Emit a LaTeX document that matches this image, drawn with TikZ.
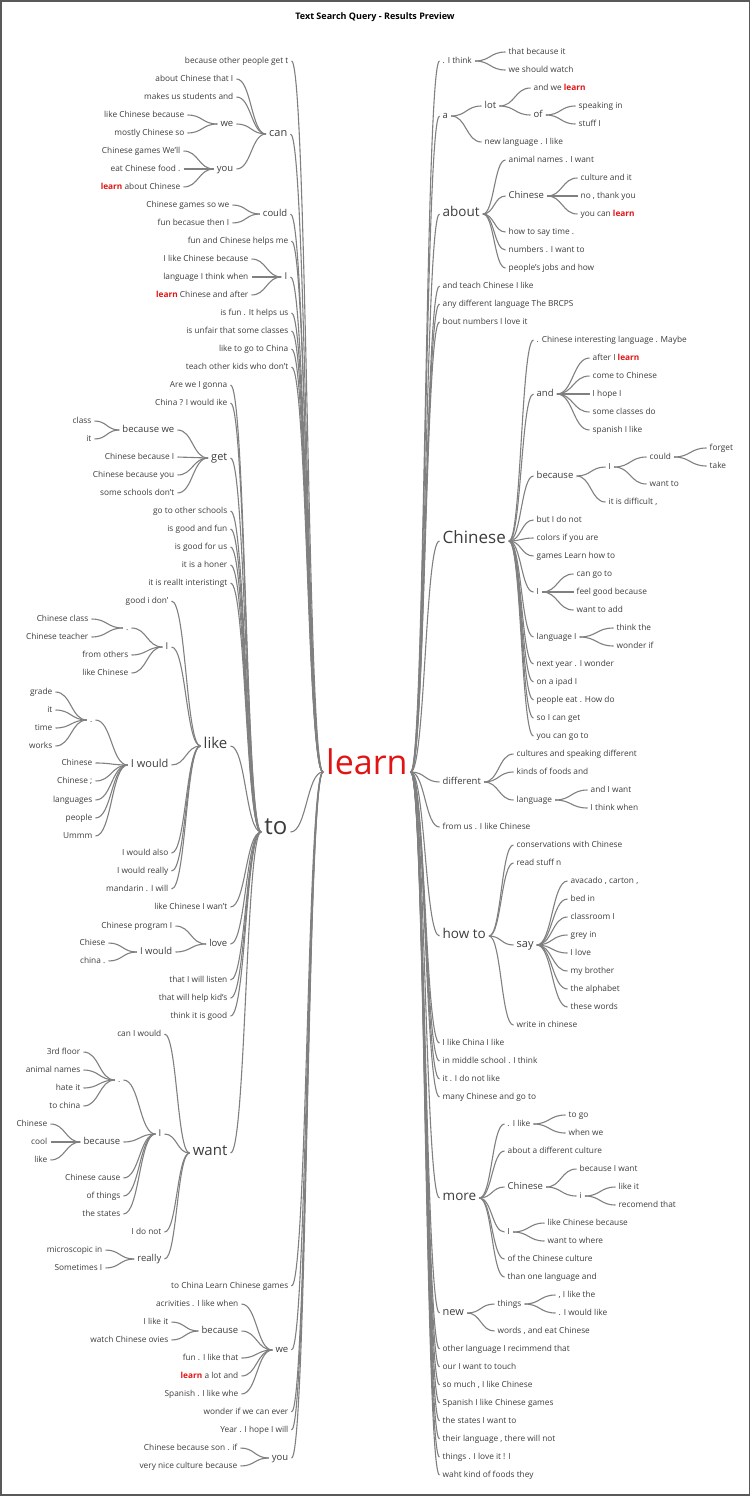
\documentclass[tikz,border=0pt]{standalone}
\usepackage{fontspec}
\setmainfont{Open Sans}
\usetikzlibrary{calc}
\definecolor{txt}{RGB}{60,60,60}
\definecolor{lngray}{RGB}{128,128,128}
\definecolor{lred}{RGB}{225,20,20}
\newcommand{\lrn}{\textbf{\textcolor{lred}{learn}}}
\newcommand{\lk}[2]{\draw[lnk] let \p1=(#1.east), \p2=(#2.west) in (\p1) .. controls (\x1/2+\x2/2,\y1) and (\x1/2+\x2/2,\y2) .. (\p2);}
\tikzset{
  wd/.style={inner xsep=3pt, inner ysep=1pt, text height=1.5ex, text depth=.5ex, text=txt, font=\fontsize{8.3}{10}\selectfont},
  lw/.style={wd, anchor=east, xshift=1.5pt},
  rw/.style={wd, anchor=west, xshift=-1.5pt},
  s1/.style={font=\fontsize{9.5}{11}\selectfont},
  s2/.style={font=\fontsize{11}{13}\selectfont},
  s3/.style={font=\fontsize{13.5}{15}\selectfont},
  s4/.style={font=\fontsize{15}{17}\selectfont},
  lnk/.style={draw=lngray, line width=1.1pt},
}
\begin{document}
\begin{tikzpicture}[x=1pt,y=-1pt]
    \useasboundingbox (0,0) rectangle (751,1496);
    \draw[gray!70!black, line width=1.2pt] (1,1) rectangle (749.5,1495);
    \node[font=\bfseries\fontsize{9}{11}\selectfont] (title) at (375,17) {Text Search Query - Results Preview};

    \node[font=\fontsize{34}{38}\selectfont, text=lred, anchor=west, inner xsep=3pt, text height=1.5ex, text depth=.5ex] (learn) at (323,772) {learn};
    \node[lw, font=\fontsize{24}{28}\selectfont] (to) at (289,832) {to};

    % left of learn
    \node[lw] (l1) at (290,61) {because other people get t};
    \node[lw,s2] (lcan) at (289,134) {can};
    \node[lw] (lcan1) at (235,79) {about Chinese that I};
    \node[lw] (lcan2) at (235,97) {makes us students and};
    \node[lw,s1] (lwe) at (235,124) {we};
    \node[lw] (lwe1) at (186,115) {like Chinese because};
    \node[lw] (lwe2) at (186,133) {mostly Chinese so};
    \node[lw,s1] (lyou) at (235,169) {you};
    \node[lw] (lyou1) at (182,151) {Chinese games We'll};
    \node[lw] (lyou2) at (182,169) {eat Chinese food .};
    \node[lw] (lyou3) at (182,187) {\lrn{} about Chinese};
    \node[lw,s1] (lcould) at (289,214) {could};
    \node[lw] (lcould1) at (231,205) {Chinese games so we};
    \node[lw] (lcould2) at (231,223) {fun becasue then I};
    \node[lw] (l2) at (290,241) {fun and Chinese helps me};
    \node[lw,s1] (lI) at (289,277) {I};
    \node[lw] (lI1) at (250,259) {I like Chinese because};
    \node[lw] (lI2) at (250,277) {language I think when};
    \node[lw] (lI3) at (250,295) {\lrn{} Chinese and after};
    \node[lw] (l3) at (290,313) {is fun . It helps us};
    \node[lw] (l4) at (290,331) {is unfair that some classes};
    \node[lw] (l5) at (290,349) {like to go to China};
    \node[lw] (l6) at (290,367) {teach other kids who don't};
    \node[lw] (l7) at (290,1286) {to China Learn Chinese games};
    \node[lw,s1] (lwb) at (290,1350) {we};
    \node[lw] (wb1) at (240,1304) {acrivities . I like when};
    \node[lw,s1] (wbb) at (240,1331) {because};
    \node[lw] (wbb1) at (170,1322) {I like it};
    \node[lw] (wbb2) at (170,1340) {watch Chinese ovies};
    \node[lw] (wb2) at (240,1358) {fun . I like that};
    \node[lw] (wb3) at (240,1376) {\lrn{} a lot and};
    \node[lw] (wb4) at (240,1394) {Spanish . I like whe};
    \node[lw] (l8) at (290,1412) {wonder if we can ever};
    \node[lw] (l9) at (290,1430) {Year . I hope I will};
    \node[lw,s1] (lyou4) at (290,1458) {you};
    \node[lw] (yb1) at (239,1448) {Chinese because son . if};
    \node[lw] (yb2) at (239,1466) {very nice culture because};

    % left of to
    \node[lw] (t1) at (229,385) {Are we I gonna};
    \node[lw] (t2) at (229,403) {China ? I would ike};
    \node[lw,s2] (tget) at (229,458) {get};
    \node[lw,s1] (gbec) at (176,430) {because we};
    \node[lw] (gbec1) at (93,421) {class};
    \node[lw] (gbec2) at (93,439) {it};
    \node[lw] (g1) at (176,457) {Chinese because I};
    \node[lw] (g2) at (176,475) {Chinese because you};
    \node[lw] (g3) at (176,493) {some schools don't};
    \node[lw] (t3) at (229,511) {go to other schools};
    \node[lw] (t4) at (229,529) {is good and fun};
    \node[lw] (t5) at (229,547) {is good for us};
    \node[lw] (t6) at (229,565) {it is a honer};
    \node[lw] (t7) at (229,583) {it is reallt interistingt};
    \node[lw,s4] (tlike) at (229,746) {like};
    \node[lw] (k1) at (170,601) {good i don'};
    \node[lw,s1] (kI) at (170,647) {I};
    \node[lw] (kIdot) at (130,628) {.};
    \node[lw] (kId1) at (90,619) {Chinese class};
    \node[lw] (kId2) at (90,637) {Chinese teacher};
    \node[lw] (kI1) at (130,655) {from others};
    \node[lw] (kI2) at (130,673) {like Chinese};
    \node[lw,s2] (kw) at (170,765) {I would};
    \node[lw] (kwdot) at (94,720) {.};
    \node[lw] (kwd1) at (54,692) {grade};
    \node[lw] (kwd2) at (54,710) {it};
    \node[lw] (kwd3) at (54,728) {time};
    \node[lw] (kwd4) at (54,746) {works};
    \node[lw] (kw1) at (94,763) {Chinese};
    \node[lw] (kw2) at (94,781) {Chinese ;};
    \node[lw] (kw3) at (94,800) {languages};
    \node[lw] (kw4) at (94,818) {people};
    \node[lw] (kw5) at (94,836) {Ummm};
    \node[lw] (k2) at (170,853) {I would also};
    \node[lw] (k3) at (170,871) {I would really};
    \node[lw] (k4) at (170,889) {mandarin . I will};
    \node[lw] (t8) at (229,907) {like Chinese I wan't};
    \node[lw,s1] (tlove) at (229,944) {love};
    \node[lw] (v1) at (174,926) {Chinese program I};
    \node[lw,s1] (vw) at (174,952) {I would};
    \node[lw] (vw1) at (107,943) {Chiese};
    \node[lw] (vw2) at (107,961) {china .};
    \node[lw] (t9) at (229,980) {that I will listen};
    \node[lw] (t10) at (229,998) {that will help kid's};
    \node[lw] (t11) at (229,1016) {think it is good};
    \node[lw,s4] (twant) at (229,1153) {want};
    \node[lw] (n1) at (163,1034) {can I would};
    \node[lw,s1] (nI) at (163,1134) {I};
    \node[lw] (nIdot) at (122,1080) {.};
    \node[lw] (nId1) at (82,1052) {3rd floor};
    \node[lw] (nId2) at (82,1070) {animal names};
    \node[lw] (nId3) at (82,1088) {hate it};
    \node[lw] (nId4) at (82,1106) {to china};
    \node[lw,s1] (nIb) at (122,1142) {because};
    \node[lw] (nIb1) at (49,1124) {Chinese};
    \node[lw] (nIb2) at (49,1142) {cool};
    \node[lw] (nIb3) at (49,1160) {like};
    \node[lw] (nI1) at (122,1178) {Chinese cause};
    \node[lw] (nI2) at (122,1196) {of things};
    \node[lw] (nI3) at (122,1214) {the states};
    \node[lw] (n2) at (163,1232) {I do not};
    \node[lw,s1] (nreal) at (163,1259) {really};
    \node[lw] (nr1) at (104,1250) {microscopic in};
    \node[lw] (nr2) at (104,1268) {Sometimes I};

    % right of learn
    \node[rw] (r1) at (441,61) {. I think};
    \node[rw] (r1a) at (507,52) {that because it};
    \node[rw] (r1b) at (507,70) {we should watch};
    \node[rw,s1] (ra) at (441,116) {a};
    \node[rw,s1] (ralot) at (483,106) {lot};
    \node[rw] (ralot1) at (532,88) {and we \lrn};
    \node[rw,s1] (raof) at (532,115) {of};
    \node[rw] (raof1) at (577,106) {speaking in};
    \node[rw] (raof2) at (577,124) {stuff I};
    \node[rw] (ra2) at (483,142) {new language . I like};
    \node[rw,s3] (rab) at (441,214) {about};
    \node[rw] (rab1) at (507,160) {animal names . I want};
    \node[rw,s1] (rabc) at (507,196) {Chinese};
    \node[rw] (rabc1) at (579,178) {culture and it};
    \node[rw] (rabc2) at (579,196) {no , thank you};
    \node[rw] (rabc3) at (579,214) {you can \lrn};
    \node[rw] (rab2) at (507,232) {how to say time .};
    \node[rw] (rab3) at (507,250) {numbers . I want to};
    \node[rw] (rab4) at (507,268) {people's jobs and how};
    \node[rw] (r2) at (441,286) {and teach Chinese I like};
    \node[rw] (r3) at (441,304) {any different language The BRCPS};
    \node[rw] (r4) at (441,322) {bout numbers I love it};
    \node[rw, font=\fontsize{17}{20}\selectfont] (rch) at (441,541) {Chinese};
    \node[rw] (c1) at (535,340) {. Chinese interesting language . Maybe};
    \node[rw,s1] (cand) at (535,394) {and};
    \node[rw] (ca1) at (591,358) {after I \lrn};
    \node[rw] (ca2) at (591,376) {come to Chinese};
    \node[rw] (ca3) at (591,394) {I hope I};
    \node[rw] (ca4) at (591,412) {some classes do};
    \node[rw] (ca5) at (591,430) {spanish I like};
    \node[rw,s1] (cbec) at (535,476) {because};
    \node[rw] (cbI) at (607,467) {I};
    \node[rw] (cbIc) at (648,457) {could};
    \node[rw] (cbIc1) at (708,448) {forget};
    \node[rw] (cbIc2) at (708,466) {take};
    \node[rw] (cbI2) at (648,484) {want to};
    \node[rw] (cb2) at (607,502) {it is difficult ,};
    \node[rw] (c2) at (535,520) {but I do not};
    \node[rw] (c3) at (535,538) {colors if you are};
    \node[rw] (c4) at (535,556) {games Learn how to};
    \node[rw] (cI) at (535,592) {I};
    \node[rw] (cI1) at (575,574) {can go to};
    \node[rw] (cI2) at (575,592) {feel good because};
    \node[rw] (cI3) at (575,610) {want to add};
    \node[rw] (clang) at (535,637) {language I};
    \node[rw] (cl1) at (615,628) {think the};
    \node[rw] (cl2) at (615,646) {wonder if};
    \node[rw] (c5) at (535,664) {next year . I wonder};
    \node[rw] (c6) at (535,682) {on a ipad I};
    \node[rw] (c7) at (535,700) {people eat . How do};
    \node[rw] (c8) at (535,718) {so I can get};
    \node[rw] (c9) at (535,736) {you can go to};
    \node[rw,s1] (rdif) at (441,782) {different};
    \node[rw] (d1) at (515,754) {cultures and speaking different};
    \node[rw] (d2) at (515,772) {kinds of foods and};
    \node[rw] (dlang) at (515,800) {language};
    \node[rw] (dl1) at (589,790) {and I want};
    \node[rw] (dl2) at (589,808) {I think when};
    \node[rw] (r5) at (441,827) {from us . I like Chinese};
    \node[rw,s3] (rhow) at (441,936) {how to};
    \node[rw] (h1) at (515,845) {conservations with Chinese};
    \node[rw] (h2) at (515,863) {read stuff n};
    \node[rw,s2] (hsay) at (515,945) {say};
    \node[rw] (hs1) at (569,881) {avacado , carton ,};
    \node[rw] (hs2) at (569,899) {bed in};
    \node[rw] (hs3) at (569,917) {classroom I};
    \node[rw] (hs4) at (569,935) {grey in};
    \node[rw] (hs5) at (569,953) {I love};
    \node[rw] (hs6) at (569,971) {my brother};
    \node[rw] (hs7) at (569,989) {the alphabet};
    \node[rw] (hs8) at (569,1007) {these words};
    \node[rw] (h3) at (515,1025) {write in chinese};
    \node[rw] (r6) at (441,1043) {I like China I like};
    \node[rw] (r7) at (441,1061) {in middle school . I think};
    \node[rw] (r8) at (441,1079) {it . I do not like};
    \node[rw] (r9) at (441,1097) {many Chinese and go to};
    \node[rw,s3] (rmore) at (441,1198) {more};
    \node[rw] (m1) at (506,1124) {. I like};
    \node[rw] (m1a) at (567,1115) {to go};
    \node[rw] (m1b) at (567,1133) {when we};
    \node[rw] (m2) at (506,1151) {about a different culture};
    \node[rw,s1] (mch) at (506,1187) {Chinese};
    \node[rw] (mc1) at (578,1169) {because I want};
    \node[rw] (mci) at (578,1196) {i};
    \node[rw] (mci1) at (617,1187) {like it};
    \node[rw] (mci2) at (617,1205) {recomend that};
    \node[rw] (mI) at (506,1232) {I};
    \node[rw] (mI1) at (546,1223) {like Chinese because};
    \node[rw] (mI2) at (546,1241) {want to where};
    \node[rw] (m3) at (506,1259) {of the Chinese culture};
    \node[rw] (m4) at (506,1277) {than one language and};
    \node[rw,s2] (rnew) at (441,1313) {new};
    \node[rw] (nw) at (496,1304) {things};
    \node[rw] (nw1) at (557,1295) {, I like the};
    \node[rw] (nw2) at (557,1313) {. I would like};
    \node[rw] (nw3) at (496,1331) {words , and eat Chinese};
    \node[rw] (r10) at (441,1349) {other language I recimmend that};
    \node[rw] (r11) at (441,1367) {our I want to touch};
    \node[rw] (r12) at (441,1385) {so much , I like Chinese};
    \node[rw] (r13) at (441,1403) {Spanish I like Chinese games};
    \node[rw] (r14) at (441,1421) {the states I want to};
    \node[rw] (r15) at (441,1439) {their language , there will not};
    \node[rw] (r16) at (441,1457) {things . I love it ! I};
    \node[rw] (r17) at (441,1475) {waht kind of foods they};

    % connectors, left
    \lk{l1}{learn} \lk{lcan}{learn} \lk{lcould}{learn} \lk{l2}{learn} \lk{lI}{learn}
    \lk{l3}{learn} \lk{l4}{learn} \lk{l5}{learn} \lk{l6}{learn} \lk{to}{learn}
    \lk{l7}{learn} \lk{lwb}{learn} \lk{l8}{learn} \lk{l9}{learn} \lk{lyou4}{learn}
    \lk{lcan1}{lcan} \lk{lcan2}{lcan} \lk{lwe}{lcan} \lk{lyou}{lcan}
    \lk{lwe1}{lwe} \lk{lwe2}{lwe}
    \lk{lyou1}{lyou} \lk{lyou2}{lyou} \lk{lyou3}{lyou}
    \lk{lcould1}{lcould} \lk{lcould2}{lcould}
    \lk{lI1}{lI} \lk{lI2}{lI} \lk{lI3}{lI}
    \lk{wb1}{lwb} \lk{wbb}{lwb} \lk{wb2}{lwb} \lk{wb3}{lwb} \lk{wb4}{lwb}
    \lk{wbb1}{wbb} \lk{wbb2}{wbb}
    \lk{yb1}{lyou4} \lk{yb2}{lyou4}
    \lk{t1}{to} \lk{t2}{to} \lk{tget}{to} \lk{t3}{to} \lk{t4}{to} \lk{t5}{to} \lk{t6}{to} \lk{t7}{to}
    \lk{tlike}{to} \lk{t8}{to} \lk{tlove}{to} \lk{t9}{to} \lk{t10}{to} \lk{t11}{to} \lk{twant}{to}
    \lk{gbec}{tget} \lk{g1}{tget} \lk{g2}{tget} \lk{g3}{tget}
    \lk{gbec1}{gbec} \lk{gbec2}{gbec}
    \lk{k1}{tlike} \lk{kI}{tlike} \lk{kw}{tlike} \lk{k2}{tlike} \lk{k3}{tlike} \lk{k4}{tlike}
    \lk{kIdot}{kI} \lk{kI1}{kI} \lk{kI2}{kI}
    \lk{kId1}{kIdot} \lk{kId2}{kIdot}
    \lk{kwdot}{kw} \lk{kw1}{kw} \lk{kw2}{kw} \lk{kw3}{kw} \lk{kw4}{kw} \lk{kw5}{kw}
    \lk{kwd1}{kwdot} \lk{kwd2}{kwdot} \lk{kwd3}{kwdot} \lk{kwd4}{kwdot}
    \lk{v1}{tlove} \lk{vw}{tlove}
    \lk{vw1}{vw} \lk{vw2}{vw}
    \lk{n1}{twant} \lk{nI}{twant} \lk{n2}{twant} \lk{nreal}{twant}
    \lk{nIdot}{nI} \lk{nIb}{nI} \lk{nI1}{nI} \lk{nI2}{nI} \lk{nI3}{nI}
    \lk{nId1}{nIdot} \lk{nId2}{nIdot} \lk{nId3}{nIdot} \lk{nId4}{nIdot}
    \lk{nIb1}{nIb} \lk{nIb2}{nIb} \lk{nIb3}{nIb}
    \lk{nr1}{nreal} \lk{nr2}{nreal}

    % connectors, right
    \lk{learn}{r1} \lk{learn}{ra} \lk{learn}{rab} \lk{learn}{r2} \lk{learn}{r3} \lk{learn}{r4}
    \lk{learn}{rch} \lk{learn}{rdif} \lk{learn}{r5} \lk{learn}{rhow} \lk{learn}{r6} \lk{learn}{r7}
    \lk{learn}{r8} \lk{learn}{r9} \lk{learn}{rmore} \lk{learn}{rnew} \lk{learn}{r10} \lk{learn}{r11}
    \lk{learn}{r12} \lk{learn}{r13} \lk{learn}{r14} \lk{learn}{r15} \lk{learn}{r16} \lk{learn}{r17}
    \lk{r1}{r1a} \lk{r1}{r1b}
    \lk{ra}{ralot} \lk{ra}{ra2} \lk{ralot}{ralot1} \lk{ralot}{raof} \lk{raof}{raof1} \lk{raof}{raof2}
    \lk{rab}{rab1} \lk{rab}{rabc} \lk{rab}{rab2} \lk{rab}{rab3} \lk{rab}{rab4}
    \lk{rabc}{rabc1} \lk{rabc}{rabc2} \lk{rabc}{rabc3}
    \lk{rch}{c1} \lk{rch}{cand} \lk{rch}{cbec} \lk{rch}{c2} \lk{rch}{c3} \lk{rch}{c4} \lk{rch}{cI}
    \lk{rch}{clang} \lk{rch}{c5} \lk{rch}{c6} \lk{rch}{c7} \lk{rch}{c8} \lk{rch}{c9}
    \lk{cand}{ca1} \lk{cand}{ca2} \lk{cand}{ca3} \lk{cand}{ca4} \lk{cand}{ca5}
    \lk{cbec}{cbI} \lk{cbec}{cb2} \lk{cbI}{cbIc} \lk{cbI}{cbI2} \lk{cbIc}{cbIc1} \lk{cbIc}{cbIc2}
    \lk{cI}{cI1} \lk{cI}{cI2} \lk{cI}{cI3}
    \lk{clang}{cl1} \lk{clang}{cl2}
    \lk{rdif}{d1} \lk{rdif}{d2} \lk{rdif}{dlang} \lk{dlang}{dl1} \lk{dlang}{dl2}
    \lk{rhow}{h1} \lk{rhow}{h2} \lk{rhow}{hsay} \lk{rhow}{h3}
    \lk{hsay}{hs1} \lk{hsay}{hs2} \lk{hsay}{hs3} \lk{hsay}{hs4} \lk{hsay}{hs5} \lk{hsay}{hs6} \lk{hsay}{hs7} \lk{hsay}{hs8}
    \lk{rmore}{m1} \lk{rmore}{m2} \lk{rmore}{mch} \lk{rmore}{mI} \lk{rmore}{m3} \lk{rmore}{m4}
    \lk{m1}{m1a} \lk{m1}{m1b} \lk{mch}{mc1} \lk{mch}{mci} \lk{mci}{mci1} \lk{mci}{mci2}
    \lk{mI}{mI1} \lk{mI}{mI2}
    \lk{rnew}{nw} \lk{rnew}{nw3} \lk{nw}{nw1} \lk{nw}{nw2}
\end{tikzpicture}
\end{document}
